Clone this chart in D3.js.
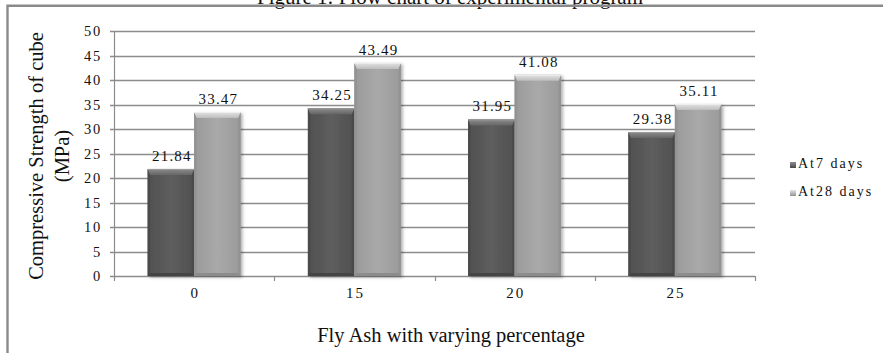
<!DOCTYPE html>
<html>
<head>
<meta charset="utf-8">
<script src="https://cdn.jsdelivr.net/npm/d3@7"></script>
<style>
  html, body { margin: 0; padding: 0; background: #fff; }
  svg { display: block; }
  svg text { font-family: "Liberation Serif", "DejaVu Serif", serif; fill: #111; }
</style>
</head>
<body>
<svg id="chart" width="883" height="353"></svg>
<script>
// ---- data ----
const categories = ["0", "15", "20", "25"];
const seriesNames = ["At7 days", "At28 days"];
const at7Days = [21.84, 34.25, 31.95, 29.38];
const at28Days = [33.47, 43.49, 41.08, 35.11];
const yTicks = [0, 5, 10, 15, 20, 25, 30, 35, 40, 45, 50];
const chartTitle = "Figure 1: Flow chart of experimental program";
const xTitle = "Fly Ash with varying percentage";
const yTitleLines = ["Compressive Strength of cube", "(MPa)"];

// ---- layout ----
const W = 883, H = 353;
const plot = { left: 114, right: 755, top: 31, bottom: 276 };
const svg = d3.select("#chart");

const seriesValues = [at7Days, at28Days];
const palettes = [
  { main: "#5e5e5e", edge: "#505050", top0: "#8c8c8c", top1: "#666666", side: "#4a4a4a", bottom: "#444444", topLine: "#9a9a9a" },
  { main: "#a9a9a9", edge: "#9a9a9a", top0: "#e4e4e4", top1: "#bdbdbd", side: "#939393", bottom: "#8c8c8c", topLine: "#eeeeee" }
];

const x = d3.scaleBand()
  .domain(categories)
  .range([plot.left, plot.right])
  .paddingInner(0.42)
  .paddingOuter(0.21);
const xs = d3.scaleBand().domain(seriesNames).range([0, x.bandwidth()]).padding(0);
const y = d3.scaleLinear().domain([0, 50]).range([plot.bottom, plot.top]);

// ---- defs: gradients and shadow ----
const defs = svg.append("defs");
palettes.forEach((p, i) => {
  const gh = defs.append("linearGradient").attr("id", "body" + i)
    .attr("x1", 0).attr("x2", 1).attr("y1", 0).attr("y2", 0);
  gh.append("stop").attr("offset", 0).attr("stop-color", p.edge);
  gh.append("stop").attr("offset", 0.5).attr("stop-color", p.main);
  gh.append("stop").attr("offset", 1).attr("stop-color", p.edge);
  const gv = defs.append("linearGradient").attr("id", "top" + i)
    .attr("x1", 0).attr("x2", 0).attr("y1", 0).attr("y2", 1);
  gv.append("stop").attr("offset", 0).attr("stop-color", p.top0);
  gv.append("stop").attr("offset", 1).attr("stop-color", p.top1);
  const gl = defs.append("linearGradient").attr("id", "legend" + i)
    .attr("x1", 0).attr("x2", 0).attr("y1", 0).attr("y2", 1);
  gl.append("stop").attr("offset", 0).attr("stop-color", p.top0);
  gl.append("stop").attr("offset", 1).attr("stop-color", p.side);
});
const shadow = defs.append("filter").attr("id", "barShadow")
  .attr("x", "-20%").attr("y", "-5%").attr("width", "150%").attr("height", "115%");
shadow.append("feDropShadow").attr("dx", 2).attr("dy", 1.5)
  .attr("stdDeviation", 1.6).attr("flood-color", "#000").attr("flood-opacity", 0.3);

// ---- frame ----
svg.append("text")
  .attr("x", 450).attr("y", 4)
  .attr("text-anchor", "middle")
  .attr("font-size", 21)
  .text(chartTitle);

svg.append("path")
  .attr("d", `M7.5,${H} L7.5,5.8 L${W},5.8`)
  .attr("fill", "none")
  .attr("stroke", "#8a8a8a")
  .attr("stroke-width", 2.4);

// ---- grid and axes ----
const grid = svg.append("g");
grid.selectAll("line.grid").data(yTicks).join("line")
  .attr("class", "grid")
  .attr("x1", plot.left - 4).attr("x2", plot.right)
  .attr("y1", d => Math.round(y(d)) + 0.5).attr("y2", d => Math.round(y(d)) + 0.5)
  .attr("stroke", "#8c8c8c")
  .attr("stroke-width", 1.4);

grid.append("line")
  .attr("x1", plot.left + 0.5).attr("x2", plot.left + 0.5)
  .attr("y1", plot.top).attr("y2", plot.bottom)
  .attr("stroke", "#8c8c8c").attr("stroke-width", 1.2);

// category separator ticks under the baseline
const sepX = categories.map(c => x(c) - x.step() * x.paddingOuter()).concat([plot.right]);
grid.selectAll("line.sep").data(sepX).join("line")
  .attr("class", "sep")
  .attr("x1", d => Math.round(d) + 0.5).attr("x2", d => Math.round(d) + 0.5)
  .attr("y1", plot.bottom).attr("y2", plot.bottom + 5)
  .attr("stroke", "#8c8c8c").attr("stroke-width", 1.2);

svg.append("g").selectAll("text").data(yTicks).join("text")
  .attr("x", 102).attr("y", d => y(d) + 5)
  .attr("text-anchor", "end")
  .attr("font-size", 14.5)
  .attr("letter-spacing", 1.8)
  .text(d => d);

svg.append("g").selectAll("text").data(categories).join("text")
  .attr("x", d => x(d) + x.bandwidth() / 2 + 1)
  .attr("y", 298)
  .attr("text-anchor", "middle")
  .attr("font-size", 15)
  .attr("letter-spacing", 2)
  .text(d => d);

// ---- bars ----
const bars = [];
categories.forEach((c, ci) => {
  seriesNames.forEach((s, si) => {
    bars.push({ cat: c, series: s, si, value: seriesValues[si][ci] });
  });
});

const barG = svg.append("g");
bars.forEach(b => {
  const bx = x(b.cat) + xs(b.series);
  const bw = xs.bandwidth();
  const yt = y(b.value);
  const yb = y(0);
  const p = palettes[b.si];
  const g = barG.append("g");
  const tb = 6, sb = 2.5, bb = 3;
  g.append("rect")
    .attr("x", bx).attr("y", yt).attr("width", bw).attr("height", yb - yt)
    .attr("fill", `url(#body${b.si})`)
    .attr("filter", "url(#barShadow)");
  // side bevels
  g.append("polygon")
    .attr("points", [[bx, yt], [bx + sb, yt + tb], [bx + sb, yb - bb], [bx, yb]].join(" "))
    .attr("fill", p.side);
  g.append("polygon")
    .attr("points", [[bx + bw, yt], [bx + bw - sb, yt + tb], [bx + bw - sb, yb - bb], [bx + bw, yb]].join(" "))
    .attr("fill", p.side);
  // bottom bevel
  g.append("polygon")
    .attr("points", [[bx, yb], [bx + sb, yb - bb], [bx + bw - sb, yb - bb], [bx + bw, yb]].join(" "))
    .attr("fill", p.bottom);
  // top bevel
  g.append("polygon")
    .attr("points", [[bx, yt], [bx + bw, yt], [bx + bw - sb, yt + tb], [bx + sb, yt + tb]].join(" "))
    .attr("fill", `url(#top${b.si})`);
  g.append("line")
    .attr("x1", bx).attr("x2", bx + bw)
    .attr("y1", yt + 0.5).attr("y2", yt + 0.5)
    .attr("stroke", p.topLine).attr("stroke-width", 1);
});

// value labels
svg.append("g").selectAll("text").data(bars).join("text")
  .attr("x", d => x(d.cat) + xs(d.series) + xs.bandwidth() / 2 + 1)
  .attr("y", d => y(d.value) - 8)
  .attr("text-anchor", "middle")
  .attr("font-size", 15)
  .attr("letter-spacing", 1.2)
  .text(d => d.value.toFixed(2));

// ---- axis titles ----
svg.append("text")
  .attr("x", 451).attr("y", 342)
  .attr("text-anchor", "middle")
  .attr("font-size", 20.5)
  .text(xTitle);

const yt = svg.append("text")
  .attr("transform", "translate(43,156) rotate(-90)")
  .attr("text-anchor", "middle")
  .attr("font-size", 20.5);
yTitleLines.forEach((line, i) => {
  yt.append("tspan").attr("x", 0).attr("y", i * 26).text(line);
});

// ---- legend ----
const legend = svg.append("g");
seriesNames.forEach((s, i) => {
  const ly = 168 + i * 28;
  legend.append("rect")
    .attr("x", 790).attr("y", ly - 6).attr("width", 6).attr("height", 6)
    .attr("fill", `url(#legend${i})`);
  legend.append("text")
    .attr("x", 798).attr("y", ly)
    .attr("font-size", 14)
    .attr("letter-spacing", 2)
    .text(s);
});
</script>
</body>
</html>
